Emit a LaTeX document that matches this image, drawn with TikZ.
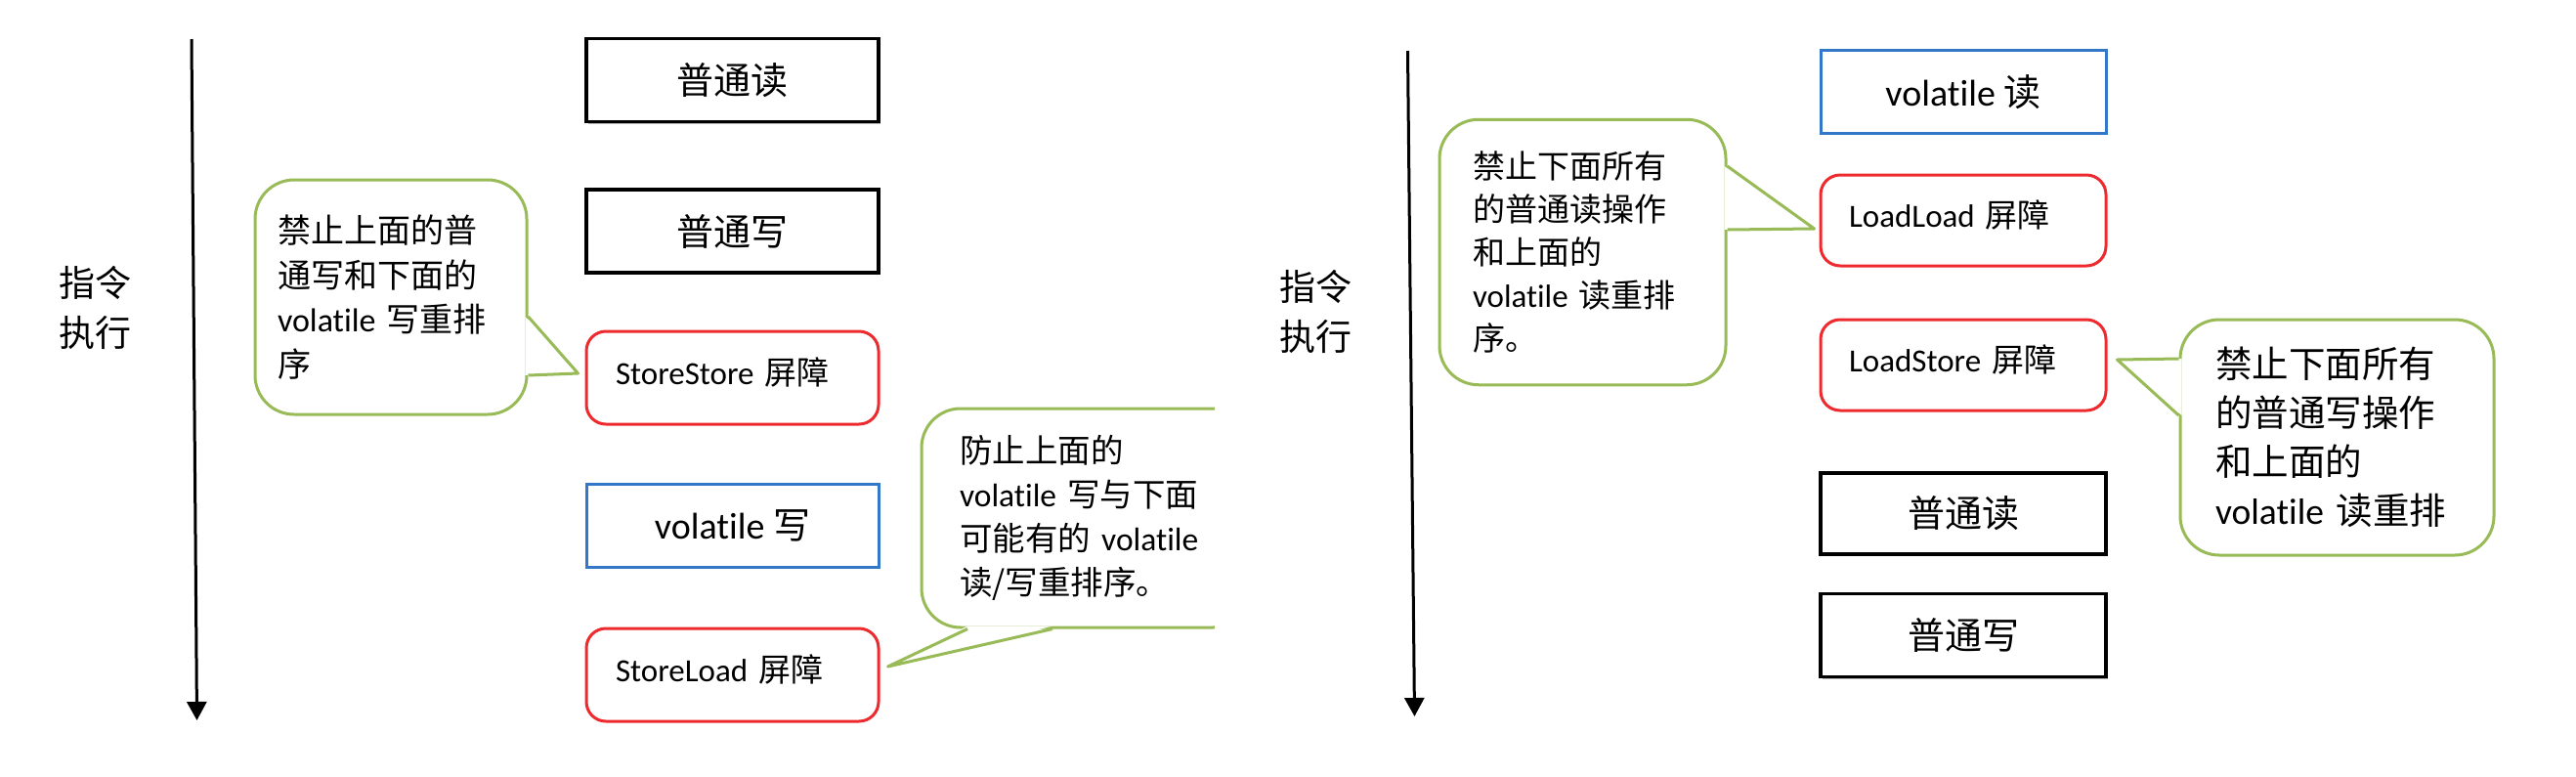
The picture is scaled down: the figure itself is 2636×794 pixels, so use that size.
\documentclass[tikz,border=0pt]{standalone}
\usepackage{fontspec}
\setmainfont[Ligatures=NoCommon]{Carlito}
\newfontfamily\cjk{Noto Sans CJK SC}
\usetikzlibrary{arrows.meta,calc,shadows}
\newcommand\zh[1]{{\cjk #1}}
\definecolor{cblue}{HTML}{3378C8}
\definecolor{cred}{HTML}{EE2A2F}
\definecolor{cgreen}{HTML}{98BA57}
\begin{document}
\begin{tikzpicture}[x=0.5pt,y=-0.5pt,
  plainbox/.style={draw=black, line width=1.9pt, fill=white, minimum width=149.5pt,
    minimum height=42.5pt, inner sep=0pt, font=\fontsize{19pt}{22pt}\selectfont,
    drop shadow={shadow xshift=1.2pt, shadow yshift=-1.2pt, fill=gray, opacity=0.6}},
  volbox/.style={draw=cblue, line width=1.5pt, fill=white, minimum width=149.5pt,
    minimum height=42.5pt, inner sep=0pt, font=\fontsize{19pt}{22pt}\selectfont},
  barrier/.style={draw=cred, line width=1.5pt, fill=white, rounded corners=10pt,
    minimum height=47.5pt, text width=119.5pt, inner xsep=15pt, inner ysep=0pt,
    align=left, text depth=7pt, font=\fontsize{16.5pt}{20pt}\selectfont},
  callout/.style={draw=cgreen, line width=1.5pt, fill=white, rounded corners=20pt,
    align=left, inner ysep=0pt},
  calloutptr/.style={draw=cgreen, line width=1.5pt, line join=round},
  flowarrow/.style={line width=1.5pt, -{Triangle[length=9.5pt,width=10pt]}},
  sidelabel/.style={font=\fontsize{18.5pt}{25.5pt}\selectfont\cjk, align=center, inner sep=0pt}
]
\useasboundingbox (0,0) rectangle (2636,794);

% ---------------- left half ----------------
\coordinate (a1s) at (196,40);
\coordinate (a1e) at (201.5,737);
\draw[flowarrow] (a1s) -- (a1e);
\node[sidelabel] (lab1) at (98,315) {指令\\执行};

\node[plainbox] (lr1) at (749.5,82) {\zh{普通读}};
\node[plainbox] (lw1) at (749.5,236.5) {\zh{普通写}};
\node[barrier] (ss) at (749.5,386.5) {StoreStore \zh{屏障}};
\node[volbox] (vw) at (749.5,537.5) {volatile \zh{写}};
\node[barrier] (sl) at (749.5,690.5) {StoreLoad \zh{屏障}};

\node[callout, minimum height=120pt, text width=116pt, inner xsep=11.5pt,
  font=\fontsize{17pt}{22.75pt}\selectfont] (c1) at (400,304)
  {\zh{禁止上面的普}\\\zh{通写和下面的}\\volatile \zh{写重排}\\\zh{序}};
\coordinate (p1t) at ($(ss.west)+(-7,-4.5)$);
\fill[white] ($(c1.east)+(-3,20)$) -- (p1t) -- ($(c1.east)+(-3,80)$) -- cycle;
\draw[calloutptr] ($(c1.east)+(0,20)$) -- (p1t) -- ($(c1.east)+(0,80)$);

\begin{scope}
\clip (0,0) rectangle (1243,794);
\node[callout, minimum height=112pt, text width=130pt, inner xsep=19.5pt,
  font=\fontsize{16.75pt}{22.5pt}\selectfont] (c2) at (1112,530)
  {\zh{防止上面的}\\volatile \zh{写与下面}\\\zh{可能有的} volatile\\\zh{读/写重排序。}};
\coordinate (p2t) at ($(sl.east)+(8,-8.5)$);
\fill[white] ($(c2.south)+(-122,-3)$) -- (p2t) -- ($(c2.south)+(-35,-3)$) -- cycle;
\draw[calloutptr] ($(c2.south)+(-122,0)$) -- (p2t) -- ($(c2.south)+(-35,0)$);
\end{scope}

% ---------------- right half ----------------
\coordinate (a2s) at (1440.5,52);
\coordinate (a2e) at (1447.5,733);
\draw[flowarrow] (a2s) -- (a2e);
\node[sidelabel] (lab2) at (1346.5,319) {指令\\执行};

\node[volbox, minimum width=146pt] (vr) at (2009,94) {volatile \zh{读}};
\node[barrier, text width=117pt, inner xsep=14.5pt, minimum height=46.5pt] (ll) at (2009,225.5) {LoadLoad \zh{屏障}};
\node[barrier, text width=117pt, inner xsep=14.5pt, minimum height=46.5pt] (ls) at (2009,373.5) {LoadStore \zh{屏障}};
\node[plainbox, minimum width=146pt, minimum height=41.5pt] (rr) at (2009,525.5) {\zh{普通读}};
\node[plainbox, minimum width=146pt] (rw) at (2009,650) {\zh{普通写}};

\node[callout, minimum height=135.75pt, text width=112.5pt, inner xsep=17pt,
  font=\fontsize{16.5pt}{22pt}\selectfont] (c3) at (1619.5,258)
  {\zh{禁止下面所有}\\\zh{的普通读操作}\\\zh{和上面的}\\volatile \zh{读重排}\\\zh{序。}};
\coordinate (p3t) at ($(ll.west)+(-5,8.5)$);
\fill[white] ($(c3.east)+(-3,-88)$) -- (p3t) -- ($(c3.east)+(-3,-23)$) -- cycle;
\draw[calloutptr] ($(c3.east)+(0,-88)$) -- (p3t) -- ($(c3.east)+(0,-23)$);

\node[callout, minimum height=120.5pt, text width=124.5pt, inner xsep=18pt,
  font=\fontsize{18.75pt}{25pt}\selectfont] (c4) at (2391.5,447.5)
  {\zh{禁止下面所有}\\\zh{的普通写操作}\\\zh{和上面的}\\volatile \zh{读重排}};
\coordinate (p4t) at ($(ls.east)+(10,-5.5)$);
\fill[white] ($(c4.west)+(3,-80.5)$) -- (p4t) -- ($(c4.west)+(3,-22.5)$) -- cycle;
\draw[calloutptr] ($(c4.west)+(0,-80.5)$) -- (p4t) -- ($(c4.west)+(0,-22.5)$);
\end{tikzpicture}
\end{document}
